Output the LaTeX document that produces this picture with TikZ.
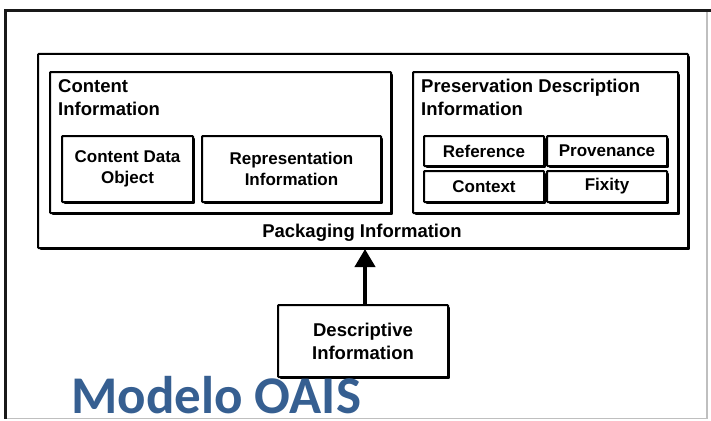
\documentclass[tikz,border=0pt]{standalone}
\usepackage{fontspec}
\setmainfont{Liberation Sans}
\newfontfamily\titlefont{Carlito}
\usetikzlibrary{arrows.meta,shadows}
\definecolor{oaisblue}{HTML}{365F91}
\tikzset{
  box/.style={draw=black, line width=2pt, fill=white, rounded corners=0.8pt,
    drop shadow={shadow xshift=1.8pt, shadow yshift=-1.8pt, fill=black, opacity=1},
    inner sep=0pt},
  inbox/.style={box, font=\fontsize{17}{21}\selectfont\bfseries, align=center},
  head/.style={font=\fontsize{18.5}{23}\selectfont\bfseries, align=left, inner sep=0pt, anchor=north west},
}
\begin{document}
\begin{tikzpicture}[x=1pt,y=-1pt]
\useasboundingbox (0,0) rectangle (711,420);
\fill[white] (0,0) rectangle (711,420);
% outer frame
\draw[gray!50, line width=1.5pt] (707,11) -- (707,418.5) -- (5,418.5);
\draw[black!90, line width=3pt] (5,418.5) -- (5,11) -- (711,11);
% packaging
\node[box, minimum width=650pt, minimum height=194pt] (pack) at (363,151) {};
\node[box, minimum width=341pt, minimum height=141pt] (ci) at (220.5,142.5) {};
\node[box, minimum width=265pt, minimum height=141pt] (pdi) at (545.5,142.5) {};
\node[head] (cihead) at (58,79) {Content\\Information};
\node[head] (pdihead) at (421,79) {Preservation Description\\Information};
\node[inbox, minimum width=131pt, minimum height=66pt] (cdo) at (127.5,169) {Content Data\\Object};
\node[inbox, minimum width=179pt, minimum height=66pt] (ri) at (291.5,169) {Representation\\Information};
\node[inbox, minimum width=120pt, minimum height=30pt] (ref) at (484,151) {Reference};
\node[inbox, minimum width=120pt, minimum height=30pt] (prov) at (607,151) {Provenance};
\node[inbox, minimum width=120pt, minimum height=31pt] (ctx) at (484,186.5) {Context};
\node[inbox, minimum width=120pt, minimum height=31pt] (fix) at (607,186.5) {Fixity};
\node[font=\fontsize{18.5}{23}\selectfont\bfseries, anchor=base, inner sep=0pt] (pilabel) at (362,237) {Packaging Information};
% descriptive
\node[inbox, font=\fontsize{18.5}{23}\selectfont\bfseries, minimum width=170pt, minimum height=72pt] (desc) at (363,341) {Descriptive\\Information};
\draw[line width=4pt, -{Triangle[width=20pt,length=18pt]}] ([xshift=2pt]desc.north) -- ([xshift=2pt]desc.north |- pack.south);
% title
\node[font=\titlefont\fontsize{53}{60}\selectfont\bfseries, text=oaisblue, anchor=base west, inner sep=0pt, text depth=0pt] (title) at (71,413) {Modelo OAIS};
\end{tikzpicture}
\end{document}
